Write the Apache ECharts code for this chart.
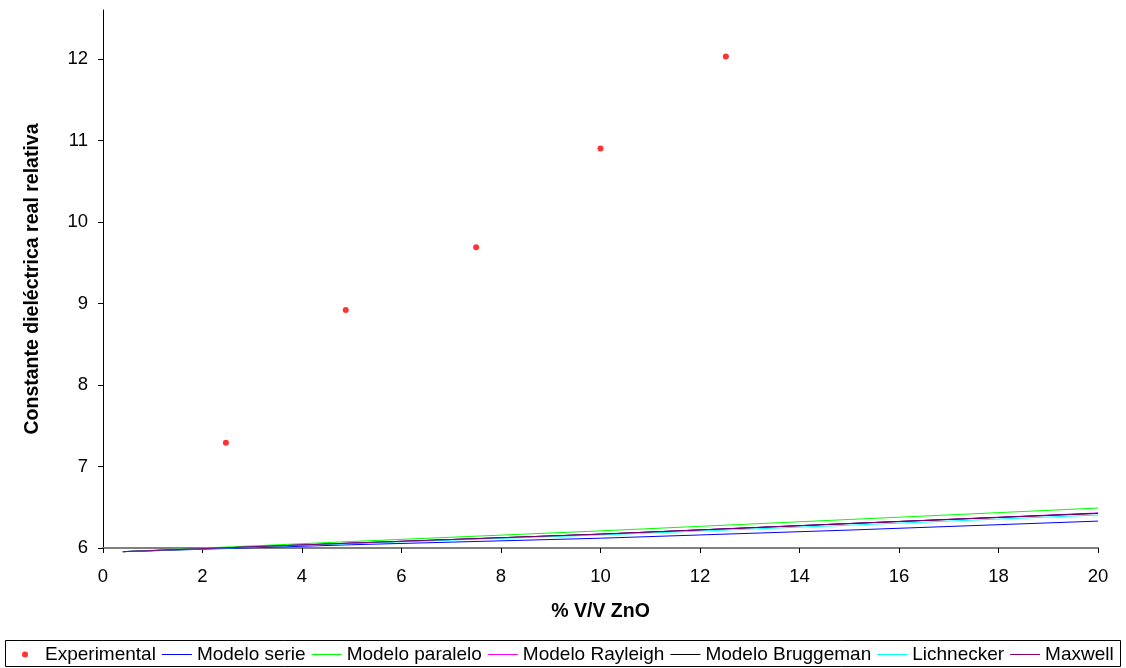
<!DOCTYPE html>
<html>
<head>
<meta charset="utf-8">
<script src="https://cdn.jsdelivr.net/npm/echarts@6/dist/echarts.min.js"></script>
<style>
  html, body { margin: 0; padding: 0; background: #fff; }
  #chart { width: 1126px; height: 668px; }
</style>
</head>
<body>
<div id="chart"></div>
<script>
// experimental points
const expX = [2.47, 4.88, 7.5, 10.0, 12.52];
const expY = [7.29, 8.92, 9.69, 10.9, 12.03];

// model curves
const modelX = [0.4, 5, 10, 15, 20];
const serie = [5.955, 6.04, 6.12, 6.22, 6.33];
const paralelo = [5.955, 6.08, 6.21, 6.35, 6.49];
const rayleigh = [5.955, 6.06, 6.17, 6.30, 6.43];
const bruggeman = [5.955, 6.06, 6.17, 6.30, 6.425];
const lichnecker = [5.955, 6.055, 6.16, 6.28, 6.405];
const maxwell = [5.955, 6.06, 6.17, 6.30, 6.425];

const yTicks = [6, 7, 8, 9, 10, 11, 12];

const pair = (xs, ys) => xs.map((x, i) => [x, ys[i]]);

const chart = echarts.init(document.getElementById("chart"), null, { renderer: "canvas" });

const lineSeries = (name, ys, color) => ({
  name,
  type: "line",
  data: pair(modelX, ys),
  symbol: "none",
  smooth: false,
  clip: false,
  lineStyle: { color, width: 1 },
  itemStyle: { color },
  animation: false,
});

const font = "Liberation Sans, Arial, sans-serif";
const lineIcon = "path://M0,0L30,0L30,1L0,1Z";

const option = {
  backgroundColor: "#fff",
  animation: false,
  textStyle: { fontFamily: font },
  grid: { left: 103, right: 28, top: 10, bottom: 120, containLabel: false },
  graphic: [
    {
      type: "rect",
      shape: { x: 5.5, y: 640.5, width: 1115, height: 26 },
      style: { fill: "none", stroke: "#000", lineWidth: 1 },
      silent: true,
    },
  ],
  legend: {
    top: 640,
    left: 17,
    width: 1106,
    itemWidth: 30,
    itemHeight: 6,
    itemGap: 6,
    textStyle: { fontSize: 19, color: "#000", fontFamily: font },
    data: [
      { name: "Experimental", icon: "circle" },
      { name: "Modelo serie", icon: lineIcon },
      { name: "Modelo paralelo", icon: lineIcon },
      { name: "Modelo Rayleigh", icon: lineIcon },
      { name: "Modelo Bruggeman", icon: lineIcon },
      { name: "Lichnecker", icon: lineIcon },
      { name: "Maxwell", icon: lineIcon },
    ],
  },
  xAxis: {
    type: "value",
    min: 0,
    max: 20,
    interval: 2,
    name: "% V/V ZnO",
    nameLocation: "middle",
    nameGap: 54,
    nameTextStyle: { fontSize: 19.5, fontWeight: "bold", color: "#000" },
    axisLine: { lineStyle: { color: "#808080", width: 2 } },
    axisTick: { inside: false, length: 5, lineStyle: { color: "#000" } },
    axisLabel: { fontSize: 18.5, color: "#000", margin: 19 },
    splitLine: { show: false },
  },
  yAxis: {
    type: "value",
    min: 6,
    max: 12.6,
    name: "Constante dieléctrica real relativa",
    nameLocation: "middle",
    nameGap: 60,
    nameTextStyle: { fontSize: 19.5, fontWeight: "bold", color: "#000" },
    axisLine: { show: true, lineStyle: { color: "#000", width: 1 } },
    axisTick: { show: true, length: 5, customValues: yTicks, lineStyle: { color: "#000" } },
    axisLabel: { fontSize: 18.5, color: "#000", margin: 15, customValues: yTicks },
    splitLine: { show: false },
  },
  series: [
    {
      name: "Experimental",
      type: "scatter",
      data: pair(expX, expY),
      symbol: "circle",
      symbolSize: 6,
      itemStyle: { color: "#ff0000" },
    },
    lineSeries("Modelo serie", serie, "#0000ff"),
    lineSeries("Modelo paralelo", paralelo, "#00ff00"),
    lineSeries("Modelo Rayleigh", rayleigh, "#ff00ff"),
    lineSeries("Modelo Bruggeman", bruggeman, "#000000"),
    lineSeries("Lichnecker", lichnecker, "#00ffff"),
    lineSeries("Maxwell", maxwell, "#800080"),
  ],
};

chart.setOption(option);
</script>
</body>
</html>
